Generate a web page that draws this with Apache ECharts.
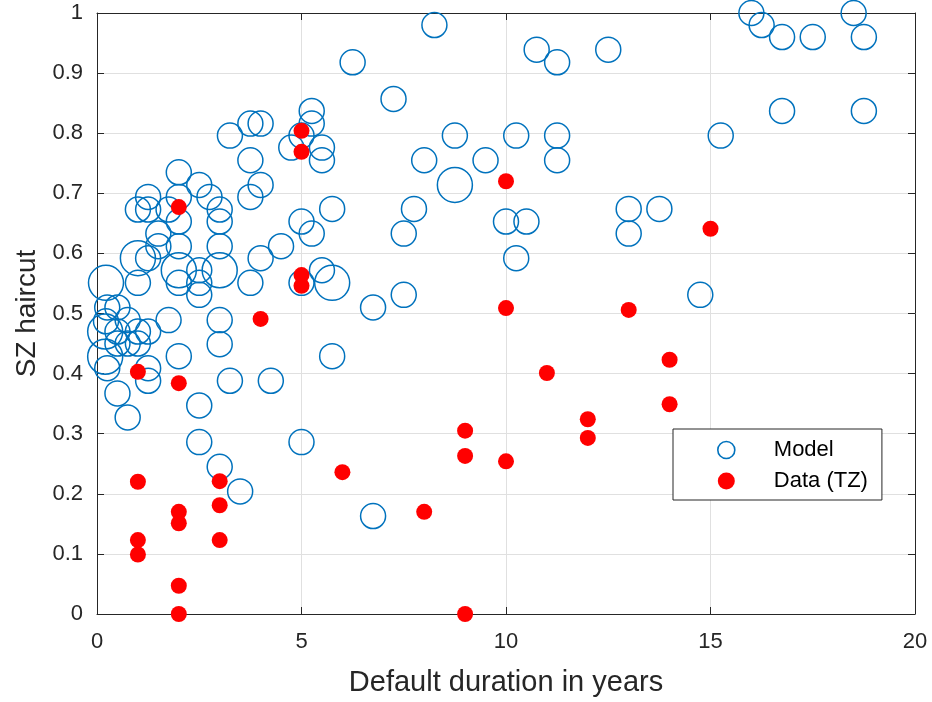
<!DOCTYPE html>
<html>
<head>
<meta charset="utf-8">
<script src="https://cdn.jsdelivr.net/npm/echarts@6/dist/echarts.min.js"></script>
<style>html,body{margin:0;padding:0;background:#fff}#c{width:932px;height:702px}</style>
</head>
<body>
<div id="c"></div>
<script>
// Model points: x (years), y (haircut), w (relative bubble weight)
const modelX = [16.0,16.25,16.75,17.5,18.5,18.75,16.75,18.75,15.25,12.5,
  8.25,6.25,7.25,5.25,5.25,5.0,4.75,5.5,5.5,
  8.75,10.25,11.25,11.25,8.0,9.5,8.75,10.75,11.25,
  5.75,5.0,5.25,4.5,7.75,7.5,10.0,10.5,10.25,13.0,13.75,13.0,14.75,
  5.0,6.75,5.75,6.75,7.5,
  5.5,5.75,5.0,4.0,3.75,
  3.25,3.75,4.0,3.75,4.0,3.75,
  2.0,2.5,1.25,2.0,2.75,1.0,1.25,1.75,3.0,2.0,1.5,3.0,1.5,2.0,3.0,
  1.0,1.25,0.22,1.0,2.0,2.5,2.0,2.5,2.5,3.0,
  0.25,0.5,0.22,0.2,0.75,0.5,0.75,1.0,1.0,1.25,0.5,1.75,3.0,3.0,
  0.2,0.25,1.25,1.25,2.0,3.25,4.25,0.5,0.75,2.5,2.5,3.0,3.5];
const modelY = [1.0,0.98,0.96,0.96,1.0,0.96,0.837,0.837,0.796,0.939,
  0.98,0.918,0.857,0.837,0.816,0.796,0.776,0.776,0.755,
  0.796,0.796,0.796,0.755,0.755,0.755,0.714,0.939,0.918,
  0.674,0.653,0.633,0.612,0.674,0.633,0.653,0.653,0.592,0.674,0.674,0.633,0.531,
  0.286,0.163,0.429,0.510,0.531,
  0.572,0.551,0.551,0.592,0.551,
  0.796,0.816,0.816,0.755,0.714,0.694,
  0.735,0.714,0.694,0.694,0.694,0.673,0.673,0.673,0.673,0.653,0.633,0.653,0.612,0.612,0.612,
  0.592,0.592,0.551,0.551,0.572,0.572,0.551,0.551,0.531,0.572,
  0.510,0.510,0.487,0.47,0.489,0.47,0.45,0.47,0.45,0.47,0.45,0.489,0.489,0.449,
  0.428,0.409,0.409,0.388,0.429,0.388,0.388,0.367,0.327,0.347,0.286,0.245,0.204];
const modelW = [1,1,1,1,1,1,1,1,1,1,
  1,1,1,1,1,1,1,1,1,
  1,1,1,1,1,1,2,1,1,
  1,1,1,1,1,1,1,1,1,1,1,1,1,
  1,1,1,1,1,
  1,2,1,1,1,
  1,1,1,1,1,1,
  1,1,1,1,1,1,1,1,1,1,1,1,1,1,1,
  2,1,2,1,2,1,1,1,1,2,
  1,1,1,2,1,1,1,1,1,1,1,1,1,1,
  2,1,1,1,1,1,1,1,1,1,1,1,1];
// Data (TZ) points
const dataX = [1,1,1,1,2,2,2,2,2,2,3,3,3,4,5,5,5,5,6,8,9,9,9,10,10,10,11,12,12,13,14,14,15];
const dataY = [0.403,0.22,0.123,0.099,0.677,0.384,0.17,0.151,0.047,0.0,0.221,0.181,0.123,0.491,
  0.804,0.769,0.564,0.546,0.236,0.17,0.305,0.263,0.0,0.72,0.509,0.254,0.401,0.324,0.293,0.506,0.423,0.349,0.641];
const xTicks = [0,5,10,15,20];
const yTickLabels = ['0','0.1','0.2','0.3','0.4','0.5','0.6','0.7','0.8','0.9','1'];

const BLUE = '#0072BD', RED = '#FF0000', AX = '#262626', GRIDC = '#e0e0e0';
const FONT = 'Liberation Sans, Arial, Helvetica, sans-serif';

const modelData = modelX.map((x,i)=>[x, modelY[i], modelW[i]]);
const dataData = dataX.map((x,i)=>[x, dataY[i]]);

const chart = echarts.init(document.getElementById('c'), null, {renderer:'canvas'});
const baseX = {type:'value', min:0, max:20, interval:5};
const baseY = {type:'value', min:0, max:1, interval:0.1};
chart.setOption({
  animation:false,
  backgroundColor:'#fff',
  grid:{left:97, right:17, top:13, bottom:88, containLabel:false},
  xAxis:[
    Object.assign({}, baseX, {
      position:'bottom',
      name:'Default duration in years', nameLocation:'middle', nameGap:54,
      nameTextStyle:{fontFamily:FONT, fontSize:29, color:AX},
      axisLine:{show:true, lineStyle:{color:AX, width:1}},
      axisTick:{show:true, inside:true, length:7, lineStyle:{color:AX}},
      axisLabel:{show:true, margin:17, fontFamily:FONT, fontSize:22, color:AX,
        formatter:v=>xTicks.includes(v)?String(v):''},
      splitLine:{show:true, lineStyle:{color:GRIDC, width:1}}
    }),
    Object.assign({}, baseX, {
      position:'top',
      axisLine:{show:true, onZero:false, lineStyle:{color:AX, width:1}},
      axisTick:{show:true, inside:true, length:7, lineStyle:{color:AX}},
      axisLabel:{show:false}, splitLine:{show:false}
    })
  ],
  yAxis:[
    Object.assign({}, baseY, {
      position:'left',
      name:'SZ haircut', nameLocation:'middle', nameGap:55, nameRotate:90,
      nameTextStyle:{fontFamily:FONT, fontSize:28, color:AX},
      axisLine:{show:true, lineStyle:{color:AX, width:1}},
      axisTick:{show:true, inside:true, length:7, lineStyle:{color:AX}},
      axisLabel:{show:true, margin:14, fontFamily:FONT, fontSize:22, color:AX,
        formatter:(v)=>yTickLabels[Math.round(v*10)]},
      splitLine:{show:true, lineStyle:{color:GRIDC, width:1}}
    }),
    Object.assign({}, baseY, {
      position:'right',
      axisLine:{show:true, onZero:false, lineStyle:{color:AX, width:1}},
      axisTick:{show:true, inside:true, length:7, lineStyle:{color:AX}},
      axisLabel:{show:false}, splitLine:{show:false}
    })
  ],
  legend:{
    orient:'vertical', left:673, top:429,
    padding:[10,14,8,44], itemGap:9, itemWidth:17, itemHeight:17,
    borderColor:AX, borderWidth:1, backgroundColor:'#fff', borderRadius:0,
    textStyle:{fontFamily:FONT, fontSize:22, color:'#000', padding:[0,0,0,34]},
    data:[
      {name:'Model', icon:'circle', itemStyle:{color:'#fff', borderColor:BLUE, borderWidth:1.6, opacity:1}},
      {name:'Data (TZ)', icon:'circle', itemStyle:{color:RED, borderWidth:0, opacity:1}}
    ]
  },
  series:[
    {
      name:'Model', type:'scatter', xAxisIndex:0, yAxisIndex:0,
      data:modelData,
      symbol:'circle',
      symbolSize:(v)=> v[2]===2 ? 35 : 25,
      itemStyle:{color:'rgba(0,0,0,0)', borderColor:BLUE, borderWidth:1.5, opacity:1},
      emphasis:{disabled:true}, z:2
    },
    {
      name:'Data (TZ)', type:'scatter', xAxisIndex:0, yAxisIndex:0,
      data:dataData,
      symbol:'circle', symbolSize:16,
      itemStyle:{color:RED, borderWidth:0, opacity:1},
      emphasis:{disabled:true}, z:3
    }
  ]
});
</script>
</body>
</html>
